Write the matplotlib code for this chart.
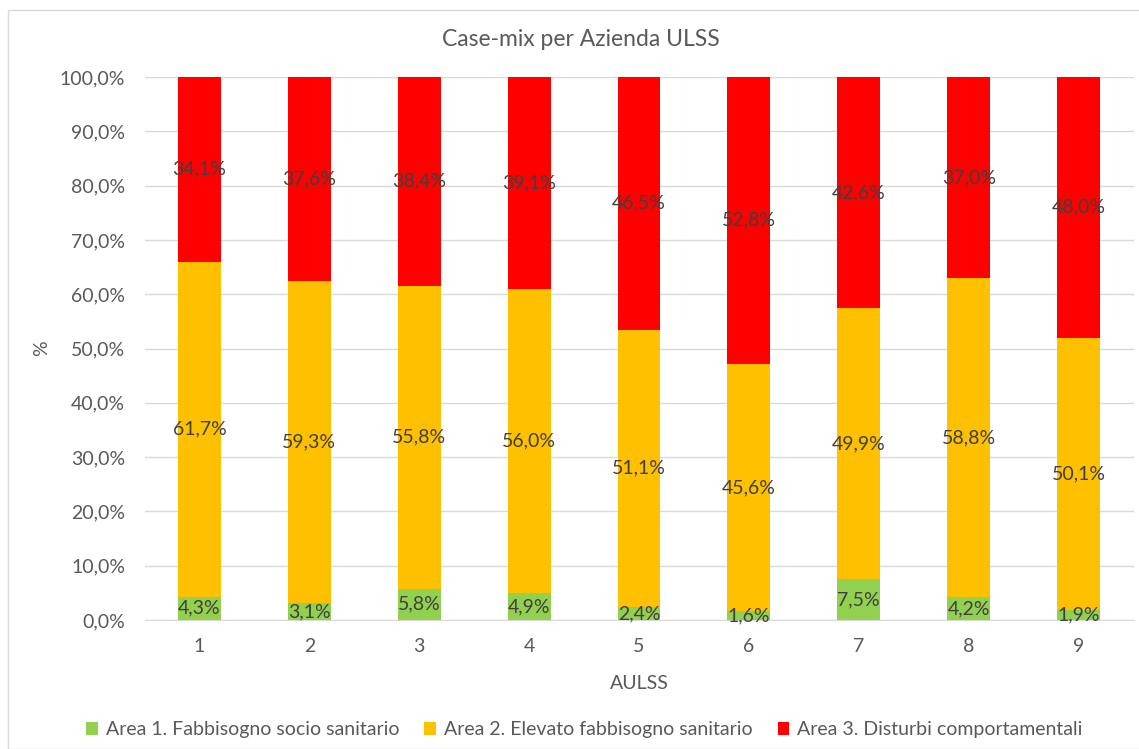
import matplotlib
matplotlib.use("Agg")
import matplotlib.pyplot as plt
from matplotlib.patches import Rectangle
from matplotlib.ticker import FuncFormatter

plt.rcParams['font.family'] = ['Lato', 'DejaVu Sans']

categories = ["1", "2", "3", "4", "5", "6", "7", "8", "9"]
area1 = [4.3, 3.1, 5.8, 4.9, 2.4, 1.6, 7.5, 4.2, 1.9]
area2 = [61.7, 59.3, 55.8, 56.0, 51.1, 45.6, 49.9, 58.8, 50.1]
area3 = [34.1, 37.6, 38.4, 39.1, 46.5, 52.8, 42.6, 37.0, 48.0]
series_names = ["Area 1. Fabbisogno socio sanitario",
                "Area 2. Elevato fabbisogno sanitario",
                "Area 3. Disturbi comportamentali"]
colors = ["#92D050", "#FFC000", "#FF0000"]

fig = plt.figure(figsize=(11.39, 7.49), dpi=100)
ax = fig.add_axes([0.1269, 0.1722, 0.8683, 0.725])

fig.patches.append(Rectangle((8/1139, 0), 1.0, 1 - 10/749, transform=fig.transFigure,
                             fill=False, edgecolor="#d9d9d9", linewidth=1.0))

x = list(range(len(categories)))
bottom = [0.0] * len(categories)
for vals, col, name in zip([area1, area2, area3], colors, series_names):
    ax.bar(x, vals, width=0.39, bottom=bottom, color=col, label=name, zorder=3)
    for xi, b, v in zip(x, bottom, vals):
        ax.text(xi, b + v / 2, f"{v:.1f}%".replace(".", ","), ha="center", va="center",
                fontsize=14, color="#404040", zorder=4)
    bottom = [b + v for b, v in zip(bottom, vals)]

ax.set_xlim(-0.5, len(categories) - 0.5)
ax.set_ylim(0, 100)
ax.set_yticks(range(0, 101, 10))
ax.yaxis.set_major_formatter(FuncFormatter(lambda v, p: f"{v:.1f}%".replace(".", ",")))
ax.set_xticks(x)
ax.set_xticklabels(categories)
ax.grid(axis="y", color="#d9d9d9", linewidth=1.0, zorder=0)
for s in ["top", "right", "left"]:
    ax.spines[s].set_visible(False)
ax.spines["bottom"].set_color("#d9d9d9")
ax.tick_params(axis="both", length=0, labelsize=14, colors="#595959")
ax.tick_params(axis="x", pad=13)
ax.tick_params(axis="y", pad=14)

ax.set_xlabel("AULSS", fontsize=14, color="#595959", labelpad=14)
ax.set_ylabel("%", fontsize=14, color="#595959", labelpad=7)
fig.text(0.51, 1 - 40/749, "Case-mix per Azienda ULSS", ha="center", va="center",
         fontsize=16.5, color="#595959")

leg = fig.legend(loc="center", bbox_to_anchor=(0.513, 1 - 730/749), ncol=3, frameon=False,
                 fontsize=14, handlelength=0.6, handleheight=0.6, handletextpad=0.4,
                 columnspacing=1.3)
for t in leg.get_texts():
    t.set_color("#595959")

fig.savefig("out.png", dpi=100)
